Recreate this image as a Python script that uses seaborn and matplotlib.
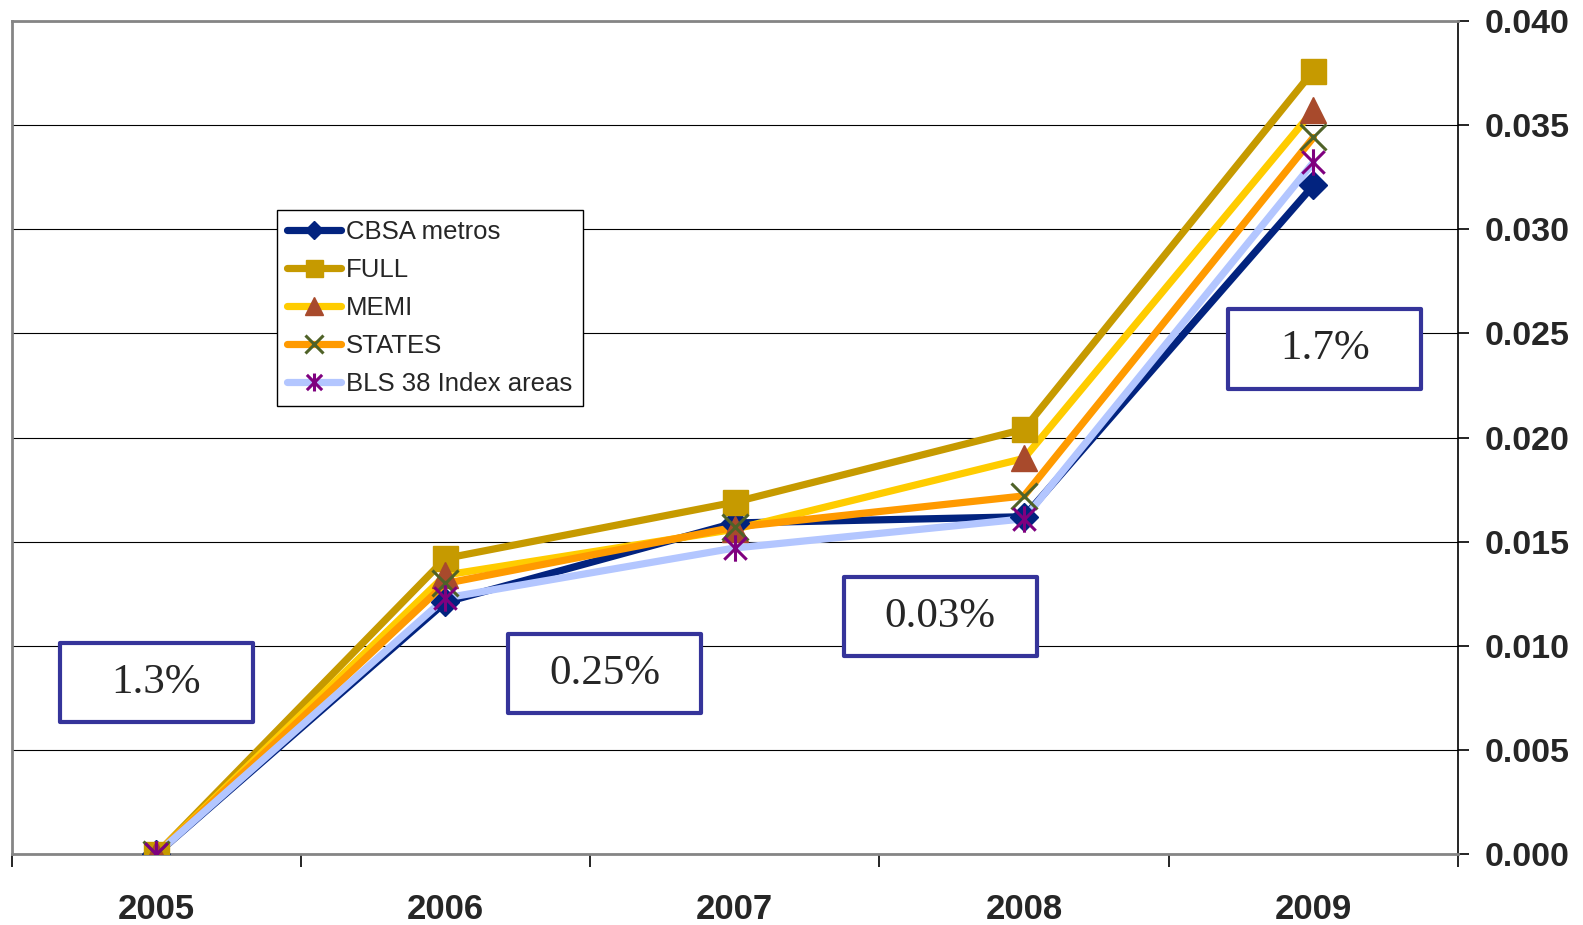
import numpy as np
import matplotlib
matplotlib.use("Agg")
import matplotlib.pyplot as plt
from matplotlib.path import Path
from matplotlib.patches import Rectangle
from matplotlib.lines import Line2D
from matplotlib.ticker import FixedLocator, FormatStrFormatter
import seaborn as sns

# ---- data -------------------------------------------------------------
years = ["2005", "2006", "2007", "2008", "2009"]
cbsa_metros = [0.0, 0.0121, 0.0159, 0.0162, 0.0321]
full = [0.0, 0.0142, 0.0169, 0.0204, 0.0376]
memi = [0.0, 0.0134, 0.0156, 0.0190, 0.0357]
states = [0.0, 0.0130, 0.0157, 0.0172, 0.0344]
bls_38 = [0.0, 0.0123, 0.0147, 0.0161, 0.0332]
series_names = ["CBSA metros", "FULL", "MEMI", "STATES", "BLS 38 Index areas"]
series_values = [cbsa_metros, full, memi, states, bls_38]

notes = ["1.3%", "0.25%", "0.03%", "1.7%"]
note_x = [0.0, 1.55, 2.71, 4.04]
note_y = [0.00824, 0.00868, 0.01141, 0.02425]

y_ticks = [0.000, 0.005, 0.010, 0.015, 0.020, 0.025, 0.030, 0.035, 0.040]

# ---- styles -----------------------------------------------------------
sns.set_style("white")
plt.rcParams["font.family"] = ["Liberation Sans", "DejaVu Sans"]

asterisk = Path([(0, -1), (0, 1), (-0.85, -0.85), (0.85, 0.85), (-0.85, 0.85), (0.85, -0.85)],
                [Path.MOVETO, Path.LINETO] * 3)

styles = [
    dict(line="#02237F", marker="D", ms=14, face="#02237F", edge="#02237F", mew=1.0),
    dict(line="#C69A00", marker="s", ms=18, face="#C69A00", edge="#C69A00", mew=1.0),
    dict(line="#FFCC00", marker="^", ms=19, face="#A84A2C", edge="#A84A2C", mew=1.0),
    dict(line="#FF9A00", marker="x", ms=19, face="none", edge="#4F6228", mew=2.2),
    dict(line="#B3C6FF", marker=asterisk, ms=19, face="none", edge="#7F007F", mew=2.2),
]

fig = plt.figure(figsize=(15.83, 9.25), dpi=100)
ax = fig.add_axes([0.00727, 0.0764, 0.9138, 0.9012])

xpos = np.arange(len(years))

# lines first, markers on top of all lines
for i, (vals, st) in enumerate(zip(series_values, styles)):
    sns.lineplot(x=xpos, y=vals, ax=ax, color=st["line"], lw=5.2,
                 errorbar=None, zorder=3 + i * 0.01, legend=False)
for i, (vals, st) in enumerate(zip(series_values, styles)):
    sns.lineplot(x=xpos, y=vals, ax=ax, color=st["line"], linestyle="none",
                 marker=st["marker"], markersize=st["ms"],
                 markerfacecolor=st["face"], mec=st["edge"], mew=st["mew"],
                 errorbar=None, zorder=4 + i * 0.01, legend=False)

# ---- axes -------------------------------------------------------------
ax.set_xlim(-0.5, len(years) - 0.5)
ax.set_ylim(0, 0.040)
ax.set_xlabel("")
ax.set_ylabel("")

ax.yaxis.tick_right()
ax.yaxis.set_major_locator(FixedLocator(y_ticks))
ax.yaxis.set_major_formatter(FormatStrFormatter("%.3f"))
ax.tick_params(axis="y", which="major", right=True, left=False, direction="out",
               length=8, width=1.2, color="black", pad=11,
               labelsize=24.5, labelright=True, labelleft=False)
for lab in ax.get_yticklabels():
    lab.set_fontweight("bold")

ax.set_xticks(xpos)
ax.set_xticklabels(years, fontsize=25, fontweight="bold")
ax.set_xticks(np.arange(-0.5, len(years)), minor=True)
ax.tick_params(axis="x", which="major", length=0, pad=28)
ax.tick_params(axis="x", which="minor", bottom=True, direction="out",
               length=9, width=1.2, color="black")

ax.grid(axis="y", color="black", lw=0.8, zorder=0)
ax.grid(axis="x", visible=False)
ax.set_axisbelow(True)

for side in ["left", "top", "bottom"]:
    ax.spines[side].set_color("#858585")
    ax.spines[side].set_linewidth(2)
ax.spines["right"].set_color("black")
ax.spines["right"].set_linewidth(1.2)

# ---- legend -----------------------------------------------------------
handles = [Line2D([], [], color=st["line"], lw=5.2, marker=st["marker"],
                  markersize=st["ms"], markerfacecolor=st["face"],
                  markeredgecolor=st["edge"], markeredgewidth=st["mew"])
           for st in styles]
leg = ax.legend(handles, series_names, loc="upper left",
                bbox_to_anchor=(0.1833, 0.7729), borderaxespad=0,
                fontsize=18.5, frameon=True, fancybox=False, shadow=False,
                edgecolor="black", framealpha=1, markerscale=0.68,
                handlelength=2.1, handletextpad=0.2, labelspacing=0.54,
                borderpad=0.4)
leg.get_frame().set_linewidth(1.0)
leg.set_zorder(10)

# ---- annotation boxes -------------------------------------------------
box_w, box_h = 0.667, 0.0038
for txt, bx, by in zip(notes, note_x, note_y):
    ax.add_patch(Rectangle((bx - box_w / 2, by - box_h / 2), box_w, box_h,
                           facecolor="white", edgecolor="#35349A", lw=3,
                           zorder=8, joinstyle="round"))
    ax.text(bx, by, txt, ha="center", va="center", fontsize=31,
            family=["Liberation Serif", "DejaVu Serif"], zorder=9)

fig.savefig("out.png", dpi=100)
